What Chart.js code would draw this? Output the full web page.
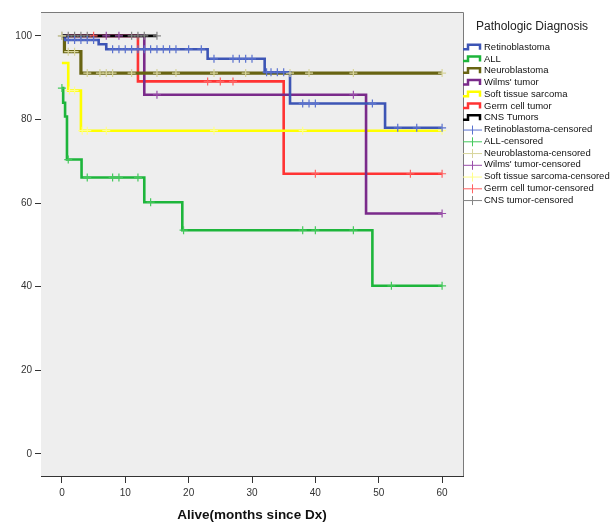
<!DOCTYPE html>
<html><head><meta charset="utf-8">
<script src="https://cdn.jsdelivr.net/npm/chart.js@4/dist/chart.umd.min.js"></script>
<style>html,body{margin:0;padding:0;background:#fff;}#wrap{width:614px;height:522px;}</style>
</head><body><div id="wrap"><canvas id="c" width="614" height="522"></canvas></div>
<script>
const xTicks = [0, 10, 20, 30, 40, 50, 60];
const yTicks = [0, 20, 40, 60, 80, 100];
const legendTitle = "Pathologic Diagnosis";
const diagnoses = ["Retinoblastoma", "ALL", "Neuroblastoma", "Wilms' tumor", "Soft tissue sarcoma", "Germ cell tumor", "CNS Tumors"];
const censorLabels = ["Retinoblastoma-censored", "ALL-censored", "Neuroblastoma-censored", "Wilms' tumor-censored", "Soft tissue sarcoma-censored", "Germ cell tumor-censored", "CNS tumor-censored"];

const retinoT = [0, 0.5, 5.8, 7, 23, 32, 36, 51, 60];
const retinoS = [100, 99, 98, 96.8, 94.5, 91.3, 83.8, 78, 78];
const retinoCens = [1, 2, 3, 4, 5, 8, 9, 10, 11, 12, 13, 14, 15, 16, 17, 18, 20, 22, 24, 27, 28, 29, 30, 32.3, 33, 34, 35, 38, 39, 40, 49, 53, 56, 60];

const allT = [0, 0.2, 0.5, 0.8, 3.1, 13, 19, 49, 60];
const allS = [87.5, 84, 80.7, 70.4, 66.1, 60.2, 53.5, 40.2, 40.2];
const allCens = [0, 1, 4, 8, 9, 12, 14, 19.2, 38, 40, 46, 52, 60];

const neuroT = [0, 0.4, 3, 60];
const neuroS = [100, 96.2, 91.1, 91.1];
const neuroCens = [0, 1, 2, 4, 6, 7, 8, 11, 15, 18, 24, 29, 36, 39, 46, 60];

const wilmsT = [0, 13, 48, 60];
const wilmsS = [100, 85.9, 57.5, 57.5];
const wilmsCens = [7, 9, 15, 46, 60];

const softT = [0, 1, 3, 60];
const softS = [93.5, 86.9, 77.3, 77.3];
const softCens = [1.2, 2, 3.2, 4, 7, 24, 38, 60];

const germT = [0, 12, 35, 60];
const germS = [100, 89.1, 67, 67];
const germCens = [5, 23, 25, 27, 40, 55, 60];

const cnsT = [0, 15];
const cnsS = [100, 100];
const cnsCens = [0, 1, 2, 3, 4, 11, 12, 13, 15];

const lineColors = ['#3d55b5', '#1db53b', '#686412', '#7a2a8a', '#ffff00', '#ff3333', '#000000'];
const censColors = ['#5a72cf', '#44c95c', '#d8d59c', '#9a4eaa', '#ffff8a', '#ff6060', '#858585'];

const seriesT = [retinoT, allT, neuroT, wilmsT, softT, germT, cnsT];
const seriesS = [retinoS, allS, neuroS, wilmsS, softS, germS, cnsS];
const seriesC = [retinoCens, allCens, neuroCens, wilmsCens, softCens, germCens, cnsCens];

function survAt(T, S, t) {
  let v = S[0];
  for (let i = 0; i < T.length; i++) { if (T[i] <= t) v = S[i]; }
  return v;
}

const datasets = [];
diagnoses.forEach((name, i) => {
  datasets.push({
    label: name,
    data: seriesT[i].map((t, j) => ({x: t, y: seriesS[i][j]})),
    borderColor: lineColors[i],
    backgroundColor: lineColors[i],
    borderWidth: i === 2 ? 3.2 : 2.6,
    pointRadius: 0,
    stepped: 'before',
    fill: false,
    order: i === 6 ? 2 : 3
  });
});
censorLabels.forEach((name, i) => {
  datasets.push({
    label: name,
    data: seriesC[i].map(t => ({x: t, y: survAt(seriesT[i], seriesS[i], t)})),
    showLine: false,
    pointStyle: 'cross',
    pointRadius: 4,
    pointBorderWidth: 1.2,
    borderColor: censColors[i],
    backgroundColor: censColors[i],
    order: 1
  });
});

const framePlugin = {
  id: 'frame',
  beforeDatasetsDraw(chart) {
    const {ctx, chartArea: a} = chart;
    ctx.save();
    ctx.fillStyle = '#eeeeee';
    ctx.fillRect(a.left, a.top, a.right - a.left, a.bottom - a.top);
    ctx.restore();
  },
  afterDraw(chart) {
    const {ctx, chartArea: a} = chart;
    ctx.save();
    ctx.strokeStyle = '#7a7a7a';
    ctx.lineWidth = 1;
    ctx.beginPath();
    ctx.moveTo(a.left, a.top + 0.5);
    ctx.lineTo(a.right + 0.5, a.top + 0.5);
    ctx.lineTo(a.right + 0.5, a.bottom);
    ctx.stroke();
    // legend
    ctx.fillStyle = '#222';
    ctx.font = '12px "Liberation Sans", Arial, sans-serif';
    ctx.textBaseline = 'middle';
    ctx.textAlign = 'left';
    ctx.fillText(legendTitle, 476, 27);
    ctx.font = '9.5px "Liberation Sans", Arial, sans-serif';
    const x0 = 463, y0 = 47.3, dy = 11.75;
    diagnoses.forEach((name, i) => {
      const y = y0 + i * dy;
      ctx.strokeStyle = lineColors[i];
      ctx.lineWidth = 2.5;
      ctx.beginPath();
      ctx.moveTo(x0, y + 2);
      ctx.lineTo(468, y + 2);
      ctx.lineTo(468, y - 2.5);
      ctx.lineTo(480, y - 2.5);
      ctx.lineTo(480, y + 2.5);
      ctx.stroke();
      ctx.fillStyle = '#111';
      ctx.fillText(name, 484, y);
    });
    censorLabels.forEach((name, i) => {
      const y = y0 + (i + 7) * dy;
      ctx.strokeStyle = censColors[i];
      ctx.lineWidth = 1;
      ctx.beginPath();
      ctx.moveTo(x0, y + 0.5);
      ctx.lineTo(482, y + 0.5);
      ctx.moveTo(472.5, y - 4);
      ctx.lineTo(472.5, y + 5);
      ctx.stroke();
      ctx.fillStyle = '#111';
      ctx.fillText(name, 484, y);
    });
    ctx.restore();
  }
};

new Chart(document.getElementById('c'), {
  type: 'line',
  data: {datasets},
  options: {
    responsive: false,
    animation: false,
    events: [],
    layout: {padding: {left: 0, top: 12, right: 151, bottom: 0}},
    plugins: {legend: {display: false}, tooltip: {enabled: false}},
    scales: {
      x: {
        type: 'linear',
        min: -3.3, max: 63.3,
        afterBuildTicks: s => { s.ticks = xTicks.map(v => ({value: v})); },
        afterFit: s => { s.height = 46; },
        grid: {drawOnChartArea: false, drawTicks: true, tickLength: 7, color: '#333'},
        border: {display: true, color: '#333', width: 1},
        ticks: {color: '#333', font: {size: 10, family: '"Liberation Sans", Arial, sans-serif'}, padding: 4, maxRotation: 0},
        title: {display: true, text: 'Alive(months since Dx)', color: '#111',
          font: {size: 13.5, weight: 'bold', family: '"Liberation Sans", Arial, sans-serif', lineHeight: 1}, padding: {top: 0, bottom: 0}}
      },
      y: {
        type: 'linear',
        min: -5.3, max: 105.7,
        afterBuildTicks: s => { s.ticks = yTicks.map(v => ({value: v})); },
        afterFit: s => { s.width = 41; },
        grid: {drawOnChartArea: false, drawTicks: true, tickLength: 6, color: '#333'},
        border: {display: true, color: '#333', width: 1},
        ticks: {color: '#333', font: {size: 10, family: '"Liberation Sans", Arial, sans-serif'}, padding: 3}
      }
    }
  },
  plugins: [framePlugin]
});
</script>
</body></html>
